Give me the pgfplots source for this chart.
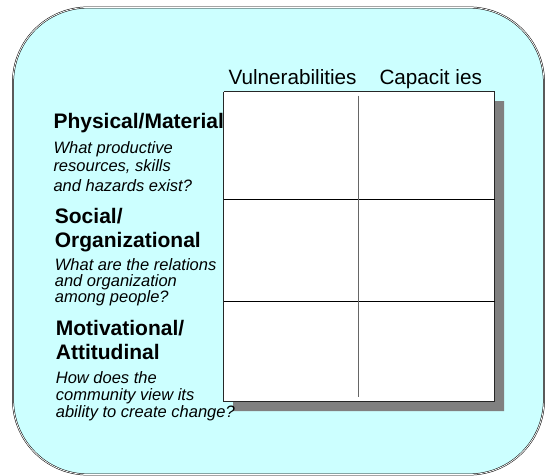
\documentclass[border=0pt]{standalone}
\usepackage{pgfplots}
\pgfplotsset{compat=1.18}
\usepackage{fontspec}
\setmainfont{Liberation Sans}
\definecolor{bgcyan}{HTML}{CCFFFF}
\definecolor{shadowgray}{HTML}{808080}
\definecolor{midline}{HTML}{666666}
\begin{document}
\begin{tikzpicture}
\begin{axis}[
  scale only axis, width=546pt, height=476pt,
  xmin=0, xmax=546, ymin=0, ymax=476,
  y dir=reverse, hide axis, clip=false,
  every axis plot/.append style={mark=none},
]
% background rounded panel
\addplot[fill=bgcyan, draw=black, double=white, double distance=0.8pt,
  line width=0.5pt, rounded corners=75pt]
  coordinates {(278,7.5) (544,7.5) (544,474.5) (13,474.5) (13,7.5) (279,7.5)};
% shadow of the grid
\addplot[fill=shadowgray, draw=none]
  coordinates {(233,101.2) (504,101.2) (504,411.2) (233,411.2) (233,101.2)};
% grid box
\addplot[fill=white, draw=black!85, line width=1pt]
  coordinates {(223.5,91.7) (494.5,91.7) (494.5,401.7) (223.5,401.7) (223.5,91.7)};
% horizontal dividers
\addplot[draw=black, line width=1pt] coordinates {(223.5,199.3) (494.5,199.3)};
\addplot[draw=black, line width=1pt] coordinates {(223.5,301.3) (494.5,301.3)};
% vertical divider
\addplot[draw=midline, line width=1.4pt] coordinates {(358.6,95.7) (358.6,396.7)};

% column headers
\node[anchor=base west, inner sep=0pt, font=\fontsize{20.7}{24}\selectfont] at (axis cs:228.3,84.3) {Vulnerabilities};
\node[anchor=base west, inner sep=0pt, font=\fontsize{20.7}{24}\selectfont] at (axis cs:379.3,84.3) {Capacit ies};

% row labels
\tikzset{rowhead/.style={anchor=base west, inner sep=0pt, font=\fontsize{21}{25}\selectfont\bfseries},
         rowsub/.style={anchor=base west, inner sep=0pt, font=\fontsize{16.5}{19}\selectfont\itshape}}
\node[rowhead] at (axis cs:53.3,128.5) {Physical/Material};
\node[rowsub] at (axis cs:53.3,153.3) {What productive};
\node[rowsub] at (axis cs:53.3,171.7) {resources, skills};
\node[rowsub] at (axis cs:53.3,191.0) {and hazards exist?};

\node[rowhead] at (axis cs:54.7,223.5) {Social/};
\node[rowhead] at (axis cs:54.7,247.5) {Organizational};
\node[rowsub] at (axis cs:54.7,270.3) {What are the relations};
\node[rowsub] at (axis cs:54.7,286.3) {and organization};
\node[rowsub] at (axis cs:54.7,302.6) {among people?};

\node[rowhead] at (axis cs:55.7,335.5) {Motivational/};
\node[rowhead] at (axis cs:55.7,359.5) {Attitudinal};
\node[rowsub] at (axis cs:55.7,383.0) {How does the};
\node[rowsub] at (axis cs:55.7,400.8) {community view its};
\node[rowsub] at (axis cs:55.7,417.0) {ability to create change?};

\path (axis cs:0,0) rectangle (axis cs:546,476);
\end{axis}
\end{tikzpicture}
\end{document}
